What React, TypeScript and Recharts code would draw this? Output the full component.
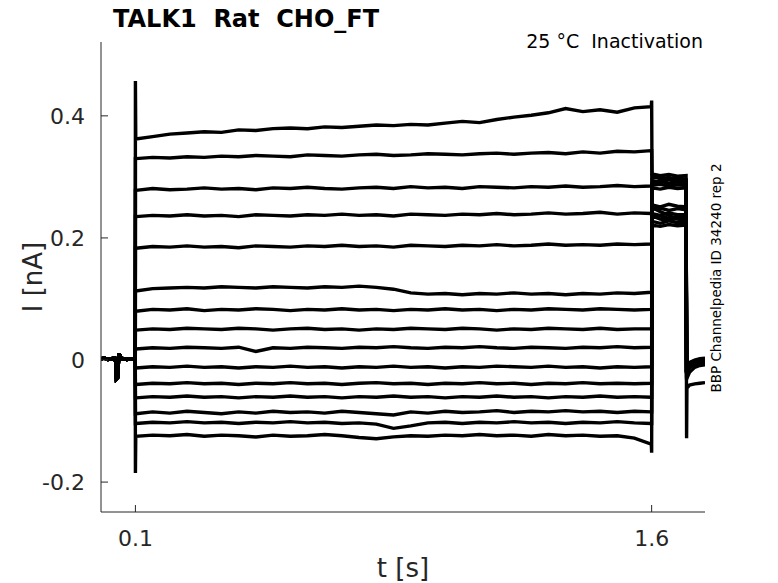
import { LineChart, Line, XAxis, YAxis } from 'recharts';

// time samples (s)
const baseTimes = [0, 0.01, 0.02, 0.03, 0.04, 0.043, 0.045, 0.048, 0.051, 0.053, 0.056, 0.065, 0.075, 0.085, 0.0995];
const onsetTime = 0.1;
const pulseTimes = [
  0.101, 0.15, 0.2, 0.25, 0.3, 0.35, 0.4, 0.45, 0.5, 0.55, 0.6, 0.65, 0.7, 0.75, 0.8, 0.85,
  0.9, 0.95, 1.0, 1.05, 1.1, 1.15, 1.2, 1.25, 1.3, 1.35, 1.4, 1.45, 1.5, 1.55, 1.599,
];
const offsetTime = 1.6;
const tailTimes = [1.601, 1.625, 1.65, 1.675, 1.7];
const dropTime = 1.7015;
const finalTimes = [1.7025, 1.71, 1.725, 1.74, 1.755];

// holding current before the step (nA), shared by all sweeps
const baseline = [0.002, 0.003, 0.001, 0.002, 0.003, -0.004, -0.031, -0.029, 0.0, 0.011, 0.003, 0.002, 0.001, 0.002, 0.001];

// capacitive spikes at the step edges
const onsetSpike = [0.457, 0.33, 0.278, 0.235, 0.183, 0.113, 0.08, 0.049, 0.018, -0.013, -0.04, -0.062, -0.088, -0.104, -0.185];
const offsetSpike = [0.425, 0.343, 0.285, 0.24, 0.19, 0.111, 0.083, 0.051, 0.021, -0.011, -0.038, -0.061, -0.085, -0.104, -0.152];
const dropSpike = [-0.02, -0.018, -0.022, -0.019, -0.021, -0.02, -0.018, -0.022, -0.02, -0.019, -0.021, -0.02, -0.018, -0.03, -0.128];

// current during the 1.5 s step, one row per sweep (nA)
const pulse01 = [0.362, 0.366, 0.37, 0.372, 0.374, 0.373, 0.377, 0.376, 0.379, 0.38, 0.379, 0.382, 0.381, 0.383, 0.385, 0.384, 0.386, 0.385, 0.388, 0.391, 0.389, 0.394, 0.398, 0.401, 0.405, 0.412, 0.407, 0.41, 0.406, 0.413, 0.415];
const pulse02 = [0.33, 0.332, 0.331, 0.333, 0.332, 0.334, 0.333, 0.335, 0.334, 0.333, 0.336, 0.335, 0.334, 0.336, 0.337, 0.335, 0.336, 0.338, 0.337, 0.336, 0.338, 0.339, 0.337, 0.339, 0.34, 0.338, 0.341, 0.339, 0.342, 0.341, 0.343];
const pulse03 = [0.278, 0.281, 0.279, 0.28, 0.282, 0.28, 0.281, 0.279, 0.282, 0.281, 0.283, 0.281, 0.28, 0.282, 0.283, 0.281, 0.284, 0.282, 0.283, 0.281, 0.284, 0.283, 0.282, 0.284, 0.283, 0.285, 0.283, 0.284, 0.286, 0.284, 0.285];
const pulse04 = [0.235, 0.237, 0.236, 0.238, 0.236, 0.237, 0.235, 0.238, 0.237, 0.236, 0.238, 0.237, 0.239, 0.237, 0.238, 0.236, 0.239, 0.238, 0.237, 0.239, 0.238, 0.24, 0.238, 0.239, 0.241, 0.239, 0.24, 0.242, 0.239, 0.241, 0.24];
const pulse05 = [0.183, 0.186, 0.185, 0.187, 0.185, 0.186, 0.184, 0.187, 0.186, 0.185, 0.187, 0.186, 0.188, 0.186, 0.187, 0.185, 0.188, 0.187, 0.186, 0.188, 0.187, 0.189, 0.187, 0.188, 0.19, 0.188, 0.189, 0.188, 0.19, 0.189, 0.19];
const pulse06 = [0.113, 0.117, 0.118, 0.119, 0.118, 0.12, 0.119, 0.118, 0.12, 0.119, 0.118, 0.12, 0.119, 0.121, 0.119, 0.116, 0.11, 0.108, 0.109, 0.107, 0.109, 0.108, 0.11, 0.108, 0.109, 0.107, 0.109, 0.108, 0.11, 0.109, 0.111];
const pulse07 = [0.08, 0.083, 0.082, 0.084, 0.081, 0.083, 0.082, 0.084, 0.083, 0.081, 0.083, 0.082, 0.084, 0.082, 0.083, 0.081, 0.083, 0.082, 0.084, 0.082, 0.083, 0.081, 0.083, 0.082, 0.084, 0.083, 0.082, 0.084, 0.083, 0.082, 0.083];
const pulse08 = [0.049, 0.051, 0.05, 0.052, 0.051, 0.05, 0.052, 0.051, 0.049, 0.051, 0.052, 0.05, 0.051, 0.049, 0.051, 0.05, 0.052, 0.051, 0.05, 0.052, 0.051, 0.049, 0.051, 0.05, 0.052, 0.051, 0.05, 0.052, 0.05, 0.051, 0.051];
const pulse09 = [0.018, 0.02, 0.019, 0.021, 0.02, 0.019, 0.021, 0.014, 0.02, 0.019, 0.021, 0.02, 0.019, 0.021, 0.02, 0.022, 0.02, 0.019, 0.021, 0.02, 0.022, 0.02, 0.019, 0.021, 0.02, 0.019, 0.021, 0.02, 0.022, 0.02, 0.021];
const pulse10 = [-0.013, -0.011, -0.012, -0.01, -0.012, -0.011, -0.013, -0.011, -0.012, -0.01, -0.012, -0.011, -0.013, -0.011, -0.012, -0.01, -0.012, -0.011, -0.013, -0.011, -0.012, -0.01, -0.011, -0.012, -0.01, -0.012, -0.011, -0.013, -0.011, -0.012, -0.011];
const pulse11 = [-0.04, -0.038, -0.039, -0.037, -0.039, -0.038, -0.04, -0.038, -0.039, -0.037, -0.039, -0.038, -0.04, -0.038, -0.037, -0.039, -0.038, -0.04, -0.038, -0.039, -0.037, -0.039, -0.038, -0.04, -0.038, -0.039, -0.037, -0.039, -0.038, -0.039, -0.038];
const pulse12 = [-0.062, -0.06, -0.061, -0.059, -0.061, -0.06, -0.062, -0.06, -0.061, -0.059, -0.061, -0.06, -0.062, -0.06, -0.061, -0.059, -0.061, -0.06, -0.062, -0.06, -0.061, -0.059, -0.061, -0.06, -0.062, -0.06, -0.061, -0.059, -0.061, -0.06, -0.061];
const pulse13 = [-0.088, -0.085, -0.087, -0.084, -0.086, -0.088, -0.085, -0.087, -0.084, -0.086, -0.085, -0.087, -0.084, -0.086, -0.088, -0.09, -0.085, -0.087, -0.084, -0.086, -0.085, -0.083, -0.086, -0.084, -0.085, -0.083, -0.085, -0.084, -0.086, -0.084, -0.085];
const pulse14 = [-0.104, -0.102, -0.103, -0.101, -0.103, -0.102, -0.104, -0.102, -0.103, -0.101, -0.103, -0.102, -0.104, -0.103, -0.105, -0.112, -0.108, -0.103, -0.102, -0.104, -0.102, -0.103, -0.101, -0.103, -0.102, -0.104, -0.102, -0.103, -0.101, -0.103, -0.104];
const pulse15 = [-0.125, -0.123, -0.124, -0.122, -0.125, -0.123, -0.124, -0.126, -0.123, -0.125, -0.124, -0.122, -0.124, -0.127, -0.129, -0.126, -0.124, -0.125, -0.123, -0.124, -0.122, -0.124, -0.123, -0.125, -0.122, -0.124, -0.123, -0.125, -0.124, -0.128, -0.138];
const pulseValues = [pulse01, pulse02, pulse03, pulse04, pulse05, pulse06, pulse07, pulse08, pulse09, pulse10, pulse11, pulse12, pulse13, pulse14, pulse15];

// tail current after the step (nA)
const tailValues = [
  [0.305, 0.302, 0.304, 0.301, 0.302],
  [0.298, 0.3, 0.296, 0.299, 0.296],
  [0.29, 0.293, 0.289, 0.292, 0.29],
  [0.282, 0.28, 0.283, 0.281, 0.282],
  [0.301, 0.297, 0.299, 0.296, 0.294],
  [0.286, 0.288, 0.285, 0.287, 0.286],
  [0.294, 0.291, 0.295, 0.292, 0.291],
  [0.254, 0.251, 0.255, 0.252, 0.251],
  [0.247, 0.249, 0.245, 0.248, 0.246],
  [0.24, 0.237, 0.241, 0.238, 0.238],
  [0.233, 0.236, 0.232, 0.235, 0.233],
  [0.227, 0.224, 0.228, 0.225, 0.225],
  [0.221, 0.219, 0.222, 0.22, 0.221],
  [0.25, 0.243, 0.237, 0.231, 0.229],
  [0.236, 0.231, 0.229, 0.232, 0.23],
];

// back at holding potential (nA)
const finalValues = [
  [-0.016, -0.007, -0.003, -0.001, 0.0],
  [-0.018, -0.009, -0.004, -0.002, -0.001],
  [-0.014, -0.005, -0.001, 0.001, 0.002],
  [-0.02, -0.01, -0.006, -0.004, -0.003],
  [-0.015, -0.006, -0.002, 0.0, 0.001],
  [-0.019, -0.011, -0.007, -0.005, -0.004],
  [-0.017, -0.008, -0.003, -0.002, -0.001],
  [-0.016, -0.006, -0.002, 0.001, 0.002],
  [-0.021, -0.012, -0.008, -0.006, -0.005],
  [-0.015, -0.007, -0.003, -0.001, 0.0],
  [-0.018, -0.009, -0.005, -0.003, -0.002],
  [-0.014, -0.004, 0.0, 0.002, 0.003],
  [-0.02, -0.01, -0.006, -0.004, -0.003],
  [-0.03, -0.02, -0.012, -0.009, -0.008],
  [-0.046, -0.041, -0.039, -0.038, -0.037],
];

const yTicks = [-0.2, 0, 0.2, 0.4];
const xTicks = [0.1, 1.6];

const times = [...baseTimes, onsetTime, ...pulseTimes, offsetTime, ...tailTimes, dropTime, ...finalTimes];
const traces = pulseValues.map((p, i) => [
  ...baseline, onsetSpike[i], ...p, offsetSpike[i], ...tailValues[i], dropSpike[i], ...finalValues[i],
]);
const rows = times.map((t, j) => {
  const r: Record<string, number> = { t };
  traces.forEach((v, i) => { r['s' + i] = v[j]; });
  return r;
});

const FONT = 'DejaVu Sans, Verdana, sans-serif';
const INK = '#262626';

function YTick(props: any) {
  const { x, y, payload } = props;
  return (
    <g>
      <line x1={x} x2={x + 7} y1={y} y2={y} stroke={INK} strokeWidth={1} />
      <text x={x - 16} y={y} dy="0.36em" textAnchor="end" fontSize={22} fontFamily={FONT} fill={INK}>
        {String(payload.value)}
      </text>
    </g>
  );
}

function XTick(props: any) {
  const { x, y, payload } = props;
  return (
    <g>
      <line x1={x} x2={x} y1={y} y2={y - 7} stroke={INK} strokeWidth={1} />
      <text x={x} y={y + 34} textAnchor="middle" fontSize={22} fontFamily={FONT} fill={INK}>
        {String(payload.value)}
      </text>
    </g>
  );
}

export default function App() {
  return (
    <div style={{ position: 'absolute', left: 0, top: 0, width: 778, height: 583, background: '#fff' }}>
      <LineChart width={778} height={583} data={rows} margin={{ top: 42, right: 73, bottom: 0, left: 0 }}>
        <XAxis
          dataKey="t"
          type="number"
          domain={[0, 1.755]}
          ticks={xTicks}
          allowDataOverflow
          height={71}
          tickSize={0}
          tickMargin={0}
          tickLine={false}
          axisLine={{ stroke: INK, strokeWidth: 1 }}
          tick={<XTick />}
        />
        <YAxis
          type="number"
          domain={[-0.249, 0.521]}
          ticks={yTicks}
          allowDataOverflow
          width={101}
          tickSize={0}
          tickMargin={0}
          tickLine={false}
          axisLine={{ stroke: INK, strokeWidth: 1 }}
          tick={<YTick />}
        />
        {traces.map((_, i) => (
          <Line
            key={i}
            dataKey={'s' + i}
            type="linear"
            stroke="#000"
            strokeWidth={3.4}
            dot={false}
            activeDot={false}
            isAnimationActive={false}
          />
        ))}
      </LineChart>
      <svg width={778} height={583} style={{ position: 'absolute', left: 0, top: 0, pointerEvents: 'none' }}>
        <text x={113} y={27} fontSize={24} fontWeight="bold" fontFamily={FONT} fill="#000" style={{ whiteSpace: 'pre' }}>
          {'TALK1  Rat  CHO_FT'}
        </text>
        <text x={703} y={48} textAnchor="end" fontSize={19} fontFamily={FONT} fill="#000" style={{ whiteSpace: 'pre' }}>
          {'25 °C  Inactivation'}
        </text>
        <text
          x={0}
          y={0}
          transform="translate(42 277) rotate(-90)"
          textAnchor="middle"
          fontSize={26}
          fontFamily={FONT}
          fill={INK}
        >
          I [nA]
        </text>
        <text x={403} y={577} textAnchor="middle" fontSize={26} fontFamily={FONT} fill={INK}>
          t [s]
        </text>
        <text
          x={0}
          y={0}
          transform="translate(721 278) rotate(-90)"
          textAnchor="middle"
          fontSize={13.5}
          fontFamily={FONT}
          fill="#000"
        >
          BBP Channelpedia ID 34240 rep 2
        </text>
      </svg>
    </div>
  );
}
